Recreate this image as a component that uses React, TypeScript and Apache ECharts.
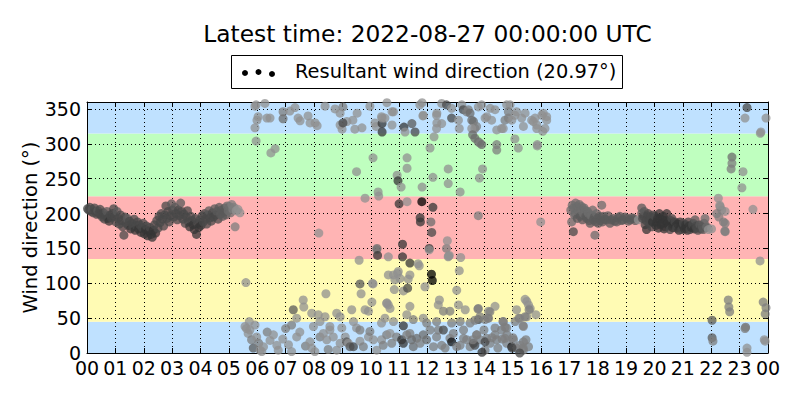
import React, { useEffect, useRef } from "react";
import * as echarts from "echarts";

const TITLE = "Latest time: 2022-08-27 00:00:00 UTC";
const LEGEND_LABEL = "Resultant wind direction (20.97°)";
const Y_NAME = "Wind direction (°)";

const hourLabels = [
  "00", "01", "02", "03", "04", "05", "06", "07", "08", "09", "10", "11",
  "12", "13", "14", "15", "16", "17", "18", "19", "20", "21", "22", "23", "00",
];

// compass sector edges in degrees (N, E, S, W, N)
const sectorEdges = [0, 45, 135, 225, 315, 360];

// [hour of day, wind direction (deg), speed class 0..10]
const nightPoints = [
  [0.02, 207, 6], [0.06, 205, 6], [0.1, 209, 6], [0.14, 203, 6], [0.18, 206, 5], [0.22, 201, 6],
  [0.26, 208, 6], [0.3, 203, 6], [0.34, 199, 6], [0.38, 204, 5], [0.42, 200, 6], [0.46, 206, 6],
  [0.5, 198, 6], [0.54, 195, 6], [0.58, 201, 6], [0.62, 192, 6], [0.66, 197, 6], [0.7, 203, 5],
  [0.74, 193, 6], [0.78, 189, 7], [0.82, 198, 6], [0.86, 194, 6], [0.9, 200, 6], [0.94, 207, 6],
  [0.98, 196, 6], [1.02, 188, 6], [1.06, 203, 5], [1.1, 193, 6], [1.14, 185, 6], [1.18, 198, 6],
  [1.22, 190, 6], [1.26, 181, 6], [1.3, 169, 6], [1.34, 195, 6], [1.38, 186, 6], [1.42, 193, 5],
  [1.46, 183, 6], [1.5, 189, 6], [1.54, 178, 7], [1.58, 186, 6], [1.62, 181, 6], [1.66, 192, 6],
  [1.7, 176, 7], [1.74, 183, 6], [1.78, 188, 6], [1.82, 178, 7], [1.86, 184, 6], [1.9, 173, 7],
  [1.94, 180, 6], [1.98, 186, 6], [2.02, 171, 7], [2.06, 177, 7], [2.1, 182, 6], [2.14, 168, 7],
  [2.18, 175, 7], [2.22, 180, 6], [2.26, 170, 7], [2.3, 166, 7], [2.34, 176, 7], [2.38, 184, 6],
  [2.42, 172, 7], [2.46, 190, 6], [2.5, 179, 6], [2.54, 196, 6], [2.58, 187, 6], [2.62, 200, 6],
  [2.66, 192, 6], [2.7, 182, 6], [2.74, 198, 6], [2.78, 211, 6], [2.82, 193, 6], [2.86, 203, 6],
  [2.9, 188, 6], [2.94, 197, 6], [2.98, 214, 5], [3.02, 205, 6], [3.06, 195, 6], [3.1, 209, 5],
  [3.14, 200, 6], [3.18, 191, 6], [3.22, 205, 6], [3.26, 197, 6], [3.3, 215, 5], [3.34, 203, 6],
  [3.38, 192, 6], [3.42, 199, 6], [3.46, 186, 6], [3.5, 195, 6], [3.54, 204, 6], [3.58, 188, 6],
  [3.62, 181, 7], [3.66, 196, 6], [3.7, 190, 6], [3.74, 184, 7], [3.78, 177, 7], [3.82, 193, 6],
  [3.86, 170, 7], [3.9, 186, 6], [3.94, 180, 7], [3.98, 191, 6], [4.02, 183, 7], [4.06, 197, 6],
  [4.1, 188, 6], [4.14, 200, 6], [4.18, 192, 6], [4.22, 185, 6], [4.26, 198, 6], [4.3, 204, 5],
  [4.34, 194, 6], [4.38, 189, 6], [4.42, 201, 6], [4.46, 195, 6], [4.5, 207, 5], [4.54, 198, 6],
  [4.58, 203, 5], [4.62, 192, 6], [4.66, 209, 5], [4.7, 199, 5], [4.74, 205, 5], [4.78, 196, 5],
  [4.82, 202, 5], [4.86, 208, 5], [4.9, 198, 5], [4.94, 211, 4], [4.98, 204, 4], [5.02, 210, 4],
  [5.06, 201, 4], [5.1, 213, 3], [5.14, 206, 3], [5.18, 209, 3], [5.22, 181, 3], [5.26, 204, 2],
  [5.32, 206, 2], [5.39, 201, 2], [5.6, 101, 2],
];

const morningPoints = [
  [5.57, 38, 2], [5.62, 35, 2], [5.68, 28, 2], [5.74, 33, 2], [5.8, 19, 3], [5.86, 7, 5],
  [5.92, 40, 2], [5.98, 23, 2], [5.72, 45, 2], [6.05, 14, 3], [6.1, 4, 2], [6.16, 2, 2],
  [6.22, 9, 2], [6.35, 30, 3], [6.45, 18, 2], [6.57, 26, 2], [6.69, 11, 2], [6.74, 4, 2],
  [6.9, 20, 2], [7.0, 35, 3], [7.1, 12, 2], [7.21, 2, 2], [7.21, 40, 3], [7.27, 62, 5],
  [7.39, 50, 2], [7.39, 23, 2], [7.5, 30, 2], [7.62, 76, 2], [7.64, 66, 2], [7.7, 10, 3],
  [7.86, 16, 2], [7.92, 7, 2], [7.92, 57, 2], [7.98, 38, 2], [8.03, 2, 2], [8.15, 55, 2],
  [8.21, 23, 3], [8.21, 45, 2], [8.33, 28, 2], [8.39, 52, 2], [8.45, 19, 2], [8.5, 5, 3],
  [8.56, 33, 2], [8.56, 38, 2], [8.68, 23, 2], [8.8, 57, 2], [8.8, 4, 2], [8.92, 52, 2],
  [8.92, 14, 2], [8.98, 36, 2], [9.1, 23, 2], [9.15, 16, 5], [9.21, 14, 2], [9.27, 9, 5],
  [9.33, 62, 2], [9.39, 45, 2], [9.39, 9, 6], [9.5, 36, 2], [9.62, 17, 2], [9.62, 33, 3],
  [9.74, 9, 3], [9.8, 62, 2], [9.92, 60, 2], [9.92, 23, 2], [9.97, 31, 3],
  [8.42, 85, 2], [9.66, 85, 2], [9.62, 99, 5], [9.59, 133, 2], [9.5, 260, 2], [9.8, 222, 2],
  [8.17, 172, 2], [10.04, 73, 2], [10.08, 99, 2], [10.57, 72, 2],
  [5.92, 354, 2], [5.96, 356, 2], [6.27, 358, 2], [6.03, 339, 2], [5.99, 334, 2], [5.92, 323, 2],
  [5.96, 304, 2], [6.34, 337, 2], [6.45, 337, 2], [6.48, 287, 2], [6.63, 293, 2], [6.91, 346, 3],
  [6.91, 336, 4], [7.15, 347, 2], [7.33, 352, 2], [7.44, 337, 2], [7.51, 333, 2], [7.79, 340, 2],
  [7.86, 330, 2], [8.04, 330, 2], [8.11, 326, 2], [8.39, 354, 2], [8.74, 350, 2], [9.02, 353, 3],
  [8.92, 344, 2], [8.92, 327, 2], [8.99, 321, 2], [9.16, 332, 2], [9.37, 334, 2], [9.44, 321, 2],
  [9.52, 344, 2], [9.69, 323, 2], [9.02, 330, 6], [9.97, 354, 2],
];

const middayHigh = [
  [10.15, 330, 2], [10.19, 325, 2], [10.4, 329, 7], [10.4, 317, 7], [10.4, 337, 2], [10.5, 337, 2],
  [10.57, 359, 2], [10.75, 327, 2], [10.75, 346, 2], [10.38, 339, 2], [10.8, 346, 2], [11.17, 324, 7],
  [11.21, 317, 2], [11.45, 329, 5], [11.56, 317, 6], [11.81, 359, 2], [11.84, 340, 2], [11.73, 356, 2],
  [11.85, 341, 2], [12.23, 310, 2], [12.09, 294, 2], [12.33, 330, 2], [12.33, 344, 2], [12.5, 358, 2],
  [12.67, 356, 6], [12.85, 351, 2], [12.32, 341, 2], [12.5, 329, 2], [12.32, 322, 2], [12.85, 337, 6],
  [13.09, 334, 2], [13.12, 322, 2], [13.21, 356, 2], [13.26, 349, 6], [13.38, 346, 3], [13.44, 349, 3],
  [13.5, 344, 4], [13.56, 334, 4], [13.62, 332, 4], [13.73, 325, 3], [13.67, 322, 3], [13.56, 322, 2],
  [13.59, 313, 4], [13.67, 308, 4], [13.79, 303, 4], [13.85, 301, 3], [13.91, 299, 4], [13.79, 353, 2],
  [13.91, 356, 2], [14.03, 337, 2], [14.09, 339, 2], [14.26, 334, 2], [14.21, 351, 2], [14.38, 349, 2],
  [14.44, 320, 2], [14.61, 322, 2], [14.67, 322, 2], [14.79, 356, 2], [14.91, 356, 2], [14.85, 346, 3],
  [14.73, 334, 3], [14.85, 337, 3], [14.97, 334, 2], [15.08, 341, 2], [15.14, 346, 2], [15.32, 337, 2],
  [15.38, 325, 2], [15.44, 344, 2], [15.67, 334, 2], [15.73, 332, 2], [15.79, 337, 2], [15.85, 327, 2],
  [15.85, 322, 2], [16.06, 318, 2], [16.08, 344, 2], [16.2, 339, 2], [16.2, 334, 2], [16.03, 341, 2],
  [16.14, 322, 2], [14.44, 299, 3], [14.44, 291, 3], [15.08, 307, 2], [15.2, 294, 2], [15.87, 299, 2],
  [15.87, 297, 2],
];

const middayMid = [
  [10.08, 280, 2], [10.26, 231, 2], [10.28, 225, 2], [10.93, 255, 2], [10.96, 247, 7], [11.07, 238, 2],
  [11.81, 238, 2], [12.19, 252, 2], [11.28, 280, 2], [11.28, 265, 2], [12.73, 264, 2], [12.73, 243, 2],
  [13.15, 231, 2], [13.83, 251, 2], [13.94, 264, 2], [11.0, 214, 7], [11.28, 217, 2], [11.8, 217, 10],
  [12.19, 209, 7], [11.74, 194, 7], [11.75, 188, 7], [12.12, 188, 4], [12.15, 173, 6], [13.79, 197, 3],
  [15.99, 188, 2], [11.12, 156, 7], [11.12, 138, 7], [12.06, 150, 7], [12.67, 150, 3], [12.7, 161, 2],
  [12.77, 140, 2], [12.73, 138, 2], [13.17, 137, 2], [11.38, 129, 7], [11.67, 128, 2], [10.62, 138, 2],
  [10.21, 148, 2], [10.22, 150, 4], [10.24, 140, 7], [11.71, 125, 2], [12.06, 148, 2], [12.14, 113, 10],
  [12.17, 104, 10], [12.74, 139, 2], [13.12, 118, 2], [10.94, 114, 2], [10.8, 112, 2], [10.97, 117, 2],
  [11.03, 107, 2], [10.62, 112, 2], [11.38, 112, 2], [10.85, 105, 2], [11.32, 106, 2], [11.91, 95, 2],
  [10.83, 91, 2], [11.15, 89, 2], [11.3, 93, 6], [13.03, 90, 2], [10.06, 100, 2],
];

const middayLow = [
  [10.09, 19, 2], [10.21, 4, 2], [10.38, 43, 2], [10.38, 19, 2], [10.44, 11, 3], [10.5, 50, 2],
  [10.56, 26, 3], [10.56, 71, 2], [10.62, 69, 2], [10.68, 64, 2], [10.68, 28, 2], [10.74, 14, 3],
  [10.8, 45, 2], [10.91, 23, 3], [11.09, 19, 7], [11.15, 14, 7], [11.15, 39, 7], [11.27, 55, 2],
  [11.27, 26, 3], [11.38, 67, 2], [11.38, 28, 3], [11.44, 19, 4], [11.5, 48, 3], [11.5, 9, 4],
  [11.62, 21, 4], [11.74, 14, 3], [11.85, 50, 2], [11.85, 26, 4], [11.97, 43, 3], [11.97, 19, 4],
  [12.09, 33, 3], [12.21, 9, 3], [12.32, 45, 3], [12.32, 23, 3], [12.38, 33, 3], [12.38, 69, 2],
  [12.42, 76, 2], [12.5, 11, 3], [12.56, 33, 6], [12.56, 60, 3], [12.62, 7, 3], [12.79, 60, 3],
  [12.79, 21, 3], [12.85, 43, 3], [12.85, 16, 9], [12.91, 28, 3], [13.03, 9, 3], [13.09, 69, 2],
  [13.15, 45, 3], [13.15, 11, 3], [13.27, 33, 3], [13.27, 21, 3], [13.33, 62, 2], [13.38, 19, 3],
  [13.5, 43, 3], [13.5, 9, 3], [13.62, 14, 6], [13.73, 26, 3], [13.79, 64, 3], [13.79, 48, 6],
  [13.85, 52, 3], [13.85, 19, 3], [14.03, 48, 3], [14.03, 4, 3], [14.09, 21, 3], [14.15, 50, 3],
  [14.15, 60, 2], [14.21, 14, 3], [14.38, 26, 3], [14.38, 36, 3], [14.38, 67, 2], [14.44, 19, 3],
  [14.61, 33, 3], [14.67, 45, 3], [14.73, 21, 3], [14.79, 14, 3], [14.79, 36, 3], [14.97, 9, 9],
  [15.03, 19, 3], [15.09, 45, 3], [15.14, 7, 3], [15.14, 62, 2], [15.26, 11, 3], [15.26, 50, 2],
  [15.38, 16, 3], [15.38, 38, 2], [15.38, 4, 3], [15.44, 77, 2], [15.5, 74, 2], [15.56, 69, 2],
  [15.62, 64, 2], [15.5, 52, 2], [15.56, 9, 3], [15.82, 55, 2],
  [13.67, 11, 6], [13.92, 1, 7], [14.03, 16, 6], [13.99, 33, 3], [13.74, 26, 3], [13.6, 19, 3],
  [14.27, 22, 3], [14.48, 7, 3], [14.63, 20, 3], [14.8, 26, 3], [14.73, 37, 3], [14.66, 45, 3],
  [14.2, 59, 3], [13.78, 63, 3], [14.13, 50, 3], [13.67, 47, 3], [15.01, 22, 3], [15.47, 19, 3],
  [15.37, 7, 3], [14.98, 7, 6], [15.25, 0, 6], [15.37, 39, 3], [15.22, 50, 3], [15.58, 62, 3],
  [15.44, 52, 3],
];

const eveningPoints = [
  [17.05, 205, 4], [17.08, 188, 4], [17.1, 212, 4], [17.14, 208, 4], [17.14, 174, 6], [17.18, 198, 4],
  [17.2, 200, 4], [17.22, 215, 4], [17.26, 210, 4], [17.28, 193, 5], [17.32, 203, 4], [17.35, 213, 4],
  [17.38, 196, 5], [17.41, 205, 4], [17.43, 210, 4], [17.46, 191, 5], [17.49, 200, 4], [17.52, 208, 4],
  [17.55, 205, 4], [17.58, 196, 5], [17.61, 193, 5], [17.64, 203, 4], [17.67, 200, 4], [17.7, 190, 5],
  [17.73, 186, 5], [17.76, 197, 4], [17.79, 198, 4], [17.82, 205, 4], [17.85, 191, 5], [17.88, 195, 5],
  [17.9, 169, 4], [17.93, 188, 5], [17.96, 200, 4], [17.99, 193, 5], [18.02, 186, 5], [18.06, 196, 5],
  [18.1, 190, 5], [18.14, 212, 4], [18.17, 188, 5], [18.2, 196, 5], [18.25, 192, 5], [18.31, 191, 5],
  [18.36, 197, 5], [18.43, 186, 5], [18.48, 191, 5], [18.55, 193, 5], [18.6, 189, 5], [18.67, 188, 5],
  [18.72, 194, 5], [18.78, 196, 5], [18.84, 190, 5], [18.9, 191, 5], [18.96, 195, 5], [19.02, 193, 5],
  [19.08, 189, 5], [19.14, 191, 5], [19.2, 194, 5], [19.26, 193, 5], [19.32, 190, 5], [19.43, 191, 2],
  [19.55, 208, 5], [19.55, 200, 5], [19.58, 193, 6], [19.61, 196, 6], [19.64, 203, 5], [19.67, 184, 6],
  [19.7, 190, 6], [19.72, 177, 7], [19.75, 197, 6], [19.78, 200, 6], [19.81, 186, 6], [19.84, 191, 6],
  [19.87, 195, 6], [19.9, 181, 6], [19.93, 188, 7], [19.96, 198, 6], [20.02, 196, 6], [20.05, 183, 7],
  [20.08, 188, 7], [20.11, 193, 7], [20.14, 179, 7], [20.17, 200, 7], [20.19, 193, 7], [20.22, 184, 7],
  [20.25, 186, 7], [20.28, 191, 7], [20.31, 196, 7], [20.34, 178, 7], [20.37, 181, 7], [20.4, 190, 7],
  [20.43, 200, 7], [20.46, 185, 7], [20.49, 188, 7], [20.52, 182, 7], [20.55, 177, 6], [20.58, 190, 7],
  [20.61, 193, 6], [20.64, 180, 7], [20.66, 184, 7], [20.7, 187, 7], [20.72, 188, 6], [20.75, 182, 7],
  [20.78, 179, 6], [20.82, 185, 7], [20.86, 176, 7], [20.9, 188, 7], [20.93, 181, 7], [20.96, 177, 6],
  [21.0, 183, 7], [21.02, 186, 6], [21.06, 178, 7], [21.1, 184, 7], [21.13, 181, 7], [21.16, 176, 7],
  [21.19, 188, 6], [21.22, 182, 7], [21.25, 177, 6], [21.3, 180, 7], [21.34, 184, 6], [21.37, 186, 6],
  [21.4, 178, 7], [21.43, 191, 5], [21.46, 182, 6], [21.49, 179, 6], [21.53, 176, 6], [21.57, 183, 6],
  [21.6, 184, 5], [21.64, 178, 6], [21.68, 181, 5], [21.72, 177, 5], [21.75, 186, 5], [21.78, 193, 4],
  [21.81, 180, 5], [21.84, 181, 4], [21.9, 177, 2], [22.01, 178, 2],
];

const latePoints = [
  [22.25, 222, 2], [22.31, 210, 3], [22.37, 205, 3], [22.19, 200, 3], [22.49, 203, 2], [22.43, 188, 3],
  [22.49, 186, 3], [22.49, 174, 3], [22.3, 212, 2], [22.48, 175, 3], [22.27, 195, 3], [22.73, 281, 4],
  [22.73, 272, 3], [22.7, 264, 3], [23.12, 260, 2], [23.08, 237, 2], [23.47, 206, 2], [23.72, 132, 2],
  [22.6, 76, 3], [22.62, 66, 3], [22.65, 59, 3], [23.83, 73, 3], [23.93, 65, 3], [23.9, 56, 3],
  [22.03, 47, 5], [22.03, 22, 5], [22.06, 17, 3], [23.21, 37, 4], [23.19, 35, 3], [23.87, 19, 2],
  [23.9, 17, 2], [23.26, 7, 2], [23.26, 1, 2], [23.26, 352, 6], [23.19, 337, 2], [23.93, 337, 2],
  [23.75, 317, 2], [23.73, 315, 2],
];

const FONT = "DejaVu Sans";

export default function App() {
  const ref = useRef<HTMLDivElement>(null);

  useEffect(() => {
    if (!ref.current) return;
    const chart = echarts.init(ref.current, null, { renderer: "svg" });

    const points = [
      ...nightPoints, ...morningPoints, ...middayHigh, ...middayMid,
      ...middayLow, ...eveningPoints, ...latePoints,
    ];

    const sectorColors = ["#bfe1ff", "#fffbb4", "#ffb4b4", "#bfffbf", "#bfe1ff"];
    const areas = sectorEdges.slice(0, -1).map((lo, i) => [
      { yAxis: lo, itemStyle: { color: sectorColors[i], opacity: 1 } },
      { yAxis: sectorEdges[i + 1] },
    ]);

    const line = { color: "#000", width: 1 };
    const tick = { show: true, inside: true, length: 5, lineStyle: line };

    chart.setOption({
      animation: false,
      backgroundColor: "#ffffff",
      textStyle: { fontFamily: FONT },
      grid: { left: 87, right: 32, top: 102, bottom: 47 },
      xAxis: [
        {
          type: "value", min: 0, max: 24, interval: 1, position: "bottom", z: 1,
          axisLine: { show: true, onZero: false, lineStyle: line },
          axisTick: tick,
          axisLabel: {
            margin: 8, fontSize: 19, lineHeight: 14, color: "#000", fontFamily: FONT,
            formatter: (v: number) => hourLabels[Math.round(v)] ?? "",
          },
          splitLine: { show: true, lineStyle: { color: "#000", width: 1, type: [1, 3] } },
        },
        {
          type: "value", min: 0, max: 24, interval: 1, position: "top", z: 1,
          axisLine: { show: true, onZero: false, lineStyle: line },
          axisTick: tick,
          axisLabel: { show: false },
          splitLine: { show: false },
        },
      ],
      yAxis: [
        {
          type: "value", min: 0, max: 360, interval: 50, position: "left", z: 1,
          name: Y_NAME, nameLocation: "middle", nameGap: 47, nameMoveOverlap: false,
          nameTextStyle: { fontSize: 19.5, color: "#000", fontFamily: FONT },
          axisLine: { show: true, onZero: false, lineStyle: line },
          axisTick: tick,
          axisLabel: {
            margin: 6, fontSize: 19, lineHeight: 14, color: "#000", fontFamily: FONT,
            formatter: (v: number) => (v >= 360 ? "" : String(v)),
          },
          splitLine: { show: true, lineStyle: { color: "#000", width: 1, type: [1, 3] } },
        },
        {
          type: "value", min: 0, max: 360, interval: 50, position: "right", z: 1,
          axisLine: { show: true, onZero: false, lineStyle: line },
          axisTick: tick,
          axisLabel: { show: false },
          splitLine: { show: false },
        },
      ],
      visualMap: {
        type: "continuous", show: false, seriesIndex: 0, dimension: 2,
        min: 0, max: 10, inRange: { color: ["#b4b4b4", "#000000"] },
      },
      series: [
        {
          type: "scatter", name: LEGEND_LABEL, xAxisIndex: 0, yAxisIndex: 0,
          data: points, symbolSize: 9, z: 2,
          itemStyle: { opacity: 0.75 },
          markArea: { silent: true, z: 0.5, label: { show: false }, data: areas },
        },
      ],
      graphic: [
        {
          type: "text", x: 427.5, y: 33, z: 10,
          style: { text: TITLE, fontSize: 23.3, fontFamily: FONT, fill: "#000", textAlign: "center", textVerticalAlign: "middle" },
        },
        {
          type: "rect", z: 10, shape: { x: 231.5, y: 55.5, width: 391, height: 33 },
          style: { fill: "#fff", stroke: "#000", lineWidth: 1 },
        },
        { type: "circle", z: 11, shape: { cx: 245, cy: 73, r: 3 }, style: { fill: "#000" } },
        { type: "circle", z: 11, shape: { cx: 258.5, cy: 72, r: 3 }, style: { fill: "#000" } },
        { type: "circle", z: 11, shape: { cx: 272, cy: 74, r: 3 }, style: { fill: "#000" } },
        {
          type: "text", x: 295, y: 71, z: 11,
          style: { text: LEGEND_LABEL, fontSize: 19.4, fontFamily: FONT, fill: "#000", textAlign: "left", textVerticalAlign: "middle" },
        },
      ],
    });

    return () => chart.dispose();
  }, []);

  return (
    <div
      ref={ref}
      style={{ position: "fixed", left: 0, top: 0, width: 800, height: 400, background: "#fff" }}
    />
  );
}
